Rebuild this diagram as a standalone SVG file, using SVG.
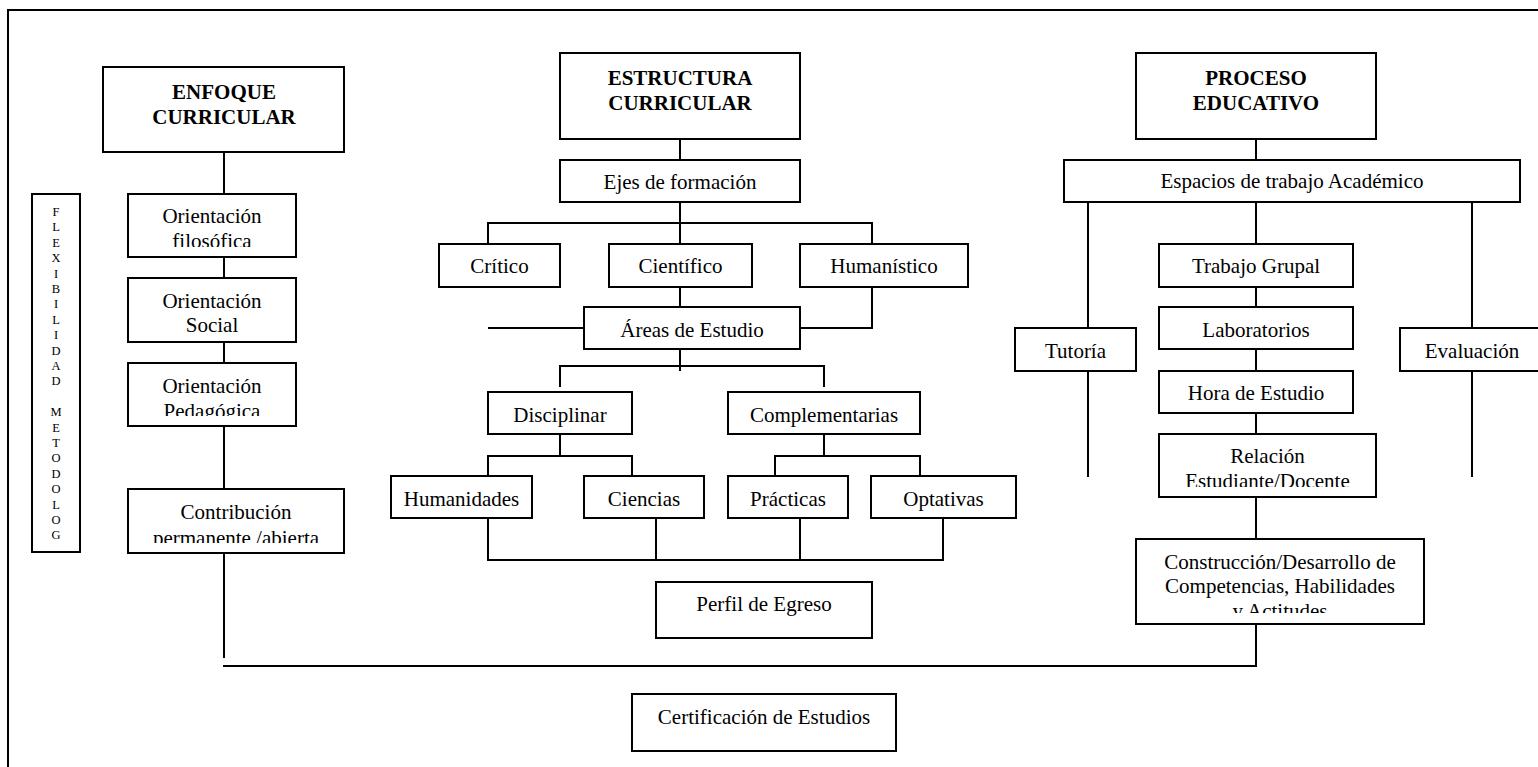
<svg xmlns="http://www.w3.org/2000/svg" width="1538" height="767" viewBox="0 0 1538 767">
<style>
.b{fill:#fff;stroke:#000;stroke-width:2}
.t{font-family:"Liberation Serif","Times New Roman",serif;font-size:21px;fill:#000;text-anchor:middle}
.h{font-family:"Liberation Serif","Times New Roman",serif;font-size:21px;font-weight:bold;fill:#000;text-anchor:middle}
.v{font-family:"Liberation Serif","Times New Roman",serif;font-size:12.5px;fill:#000;text-anchor:middle}
.c{fill:none;stroke:#000;stroke-width:2}
</style>
<defs>
<clipPath id="cp1"><rect x="128" y="194" width="168" height="53"/></clipPath>
<clipPath id="cp2"><rect x="128" y="278" width="168" height="54"/></clipPath>
<clipPath id="cp3"><rect x="128" y="363" width="168" height="53"/></clipPath>
<clipPath id="cp4"><rect x="128" y="489" width="216" height="54"/></clipPath>
<clipPath id="cp5"><rect x="1159" y="434" width="217" height="53"/></clipPath>
<clipPath id="cp6"><rect x="1136" y="539" width="288" height="74"/></clipPath>
</defs>
<rect x="8" y="10" width="1545" height="770" fill="#fff" stroke="#000" stroke-width="2"/>

<g id="connectors">
<path class="c" d="M224,152V194M224,257V278M224,342V363M224,426V489M224,553V658M223,666H1256V624"/>
<path class="c" d="M680,139V160M680,202V244M488,244V223H872V244M680,287V307M488,328H584M872,287V328H800M680,349V371M560,387V366H824V387"/>
<path class="c" d="M560,434V456M488,476V456H632V476M824,434V456M775,476V456H920V476"/>
<path class="c" d="M488,518V560H943V518M656,518V560M800,518V560"/>
<path class="c" d="M1256,139V160M1256,202V244M1088,202V328M1472,202V328M1256,287V307M1256,349V371M1088,371V477M1472,371V477M1256,413V434M1256,497V539"/>
</g>

<g id="flexibilidad">
<rect class="b" x="32" y="194" width="48" height="358"/>
<text class="v"><tspan x="56" y="216">F</tspan><tspan x="56" y="231.4">L</tspan><tspan x="56" y="246.8">E</tspan><tspan x="56" y="262.2">X</tspan><tspan x="56" y="277.6">I</tspan><tspan x="56" y="293">B</tspan><tspan x="56" y="308.4">I</tspan><tspan x="56" y="323.8">L</tspan><tspan x="56" y="339.2">I</tspan><tspan x="56" y="354.6">D</tspan><tspan x="56" y="370">A</tspan><tspan x="56" y="385.4">D</tspan><tspan x="56" y="416.2">M</tspan><tspan x="56" y="431.6">E</tspan><tspan x="56" y="447">T</tspan><tspan x="56" y="462.4">O</tspan><tspan x="56" y="477.8">D</tspan><tspan x="56" y="493.2">O</tspan><tspan x="56" y="508.6">L</tspan><tspan x="56" y="524">O</tspan><tspan x="56" y="539.4">G</tspan></text>
</g>

<g id="enfoque">
<rect class="b" x="103" y="67" width="241" height="85"/>
<text class="h" x="224" y="98.5">ENFOQUE</text>
<text class="h" x="224" y="123.5">CURRICULAR</text>
</g>
<g id="orientacion-filosofica">
<rect class="b" x="128" y="194" width="168" height="63"/>
<g clip-path="url(#cp1)"><text class="t" x="212" y="223">Orientación</text><text class="t" x="212" y="248">filosófica</text></g>
</g>
<g id="orientacion-social">
<rect class="b" x="128" y="278" width="168" height="64"/>
<g clip-path="url(#cp2)"><text class="t" x="212" y="308">Orientación</text><text class="t" x="212" y="332">Social</text></g>
</g>
<g id="orientacion-pedagogica">
<rect class="b" x="128" y="363" width="168" height="63"/>
<g clip-path="url(#cp3)"><text class="t" x="212" y="393">Orientación</text><text class="t" x="212" y="418">Pedagógica</text></g>
</g>
<g id="contribucion">
<rect class="b" x="128" y="489" width="216" height="64"/>
<g clip-path="url(#cp4)"><text class="t" x="236" y="519">Contribución</text><text class="t" x="236" y="545">permanente /abierta</text></g>
</g>

<g id="estructura">
<rect class="b" x="560" y="53" width="240" height="86"/>
<text class="h" x="680" y="85">ESTRUCTURA</text>
<text class="h" x="680" y="110">CURRICULAR</text>
</g>
<g id="ejes"><rect class="b" x="560" y="160" width="240" height="42"/><text class="t" x="680" y="189">Ejes de formación</text></g>
<g id="critico"><rect class="b" x="439" y="244" width="121" height="43"/><text class="t" x="499.5" y="273">Crítico</text></g>
<g id="cientifico"><rect class="b" x="609" y="244" width="143" height="43"/><text class="t" x="680.5" y="273">Científico</text></g>
<g id="humanistico"><rect class="b" x="800" y="244" width="168" height="43"/><text class="t" x="884" y="273">Humanístico</text></g>
<g id="areas"><rect class="b" x="584" y="307" width="216" height="42"/><text class="t" x="692" y="337">Áreas de Estudio</text></g>
<g id="disciplinar"><rect class="b" x="488" y="392" width="144" height="42"/><text class="t" x="560" y="422">Disciplinar</text></g>
<g id="complementarias"><rect class="b" x="728" y="392" width="192" height="42"/><text class="t" x="824" y="422">Complementarias</text></g>
<g id="humanidades"><rect class="b" x="391" y="476" width="141" height="42"/><text class="t" x="461.5" y="506">Humanidades</text></g>
<g id="ciencias"><rect class="b" x="584" y="476" width="120" height="42"/><text class="t" x="644" y="506">Ciencias</text></g>
<g id="practicas"><rect class="b" x="728" y="476" width="120" height="42"/><text class="t" x="788" y="506">Prácticas</text></g>
<g id="optativas"><rect class="b" x="871" y="476" width="145" height="42"/><text class="t" x="943.5" y="506">Optativas</text></g>
<g id="perfil"><rect class="b" x="656" y="582" width="216" height="56"/><text class="t" x="764" y="611">Perfil de Egreso</text></g>
<g id="certificacion"><rect class="b" x="632" y="694" width="264" height="57"/><text class="t" x="764" y="724">Certificación de Estudios</text></g>

<g id="proceso">
<rect class="b" x="1136" y="53" width="240" height="86"/>
<text class="h" x="1256" y="85">PROCESO</text>
<text class="h" x="1256" y="110">EDUCATIVO</text>
</g>
<g id="espacios"><rect class="b" x="1064" y="160" width="456" height="42"/><text class="t" x="1292" y="188">Espacios de trabajo Académico</text></g>
<g id="trabajo-grupal"><rect class="b" x="1159" y="244" width="194" height="43"/><text class="t" x="1256" y="273">Trabajo Grupal</text></g>
<g id="laboratorios"><rect class="b" x="1159" y="307" width="194" height="42"/><text class="t" x="1256" y="337">Laboratorios</text></g>
<g id="tutoria"><rect class="b" x="1015" y="328" width="121" height="43"/><text class="t" x="1075.5" y="358">Tutoría</text></g>
<g id="evaluacion"><rect class="b" x="1400" y="328" width="144" height="43"/><text class="t" x="1472" y="358">Evaluación</text></g>
<g id="hora-estudio"><rect class="b" x="1159" y="371" width="194" height="42"/><text class="t" x="1256" y="400">Hora de Estudio</text></g>
<g id="relacion">
<rect class="b" x="1159" y="434" width="217" height="63"/>
<g clip-path="url(#cp5)"><text class="t" x="1267.5" y="463">Relación</text><text class="t" x="1267.5" y="488">Estudiante/Docente</text></g>
</g>
<g id="construccion">
<rect class="b" x="1136" y="539" width="288" height="85"/>
<g clip-path="url(#cp6)"><text class="t" x="1280" y="569">Construcción/Desarrollo de</text><text class="t" x="1280" y="593">Competencias, Habilidades</text><text class="t" x="1280" y="618">y Actitudes</text></g>
</g>
</svg>
